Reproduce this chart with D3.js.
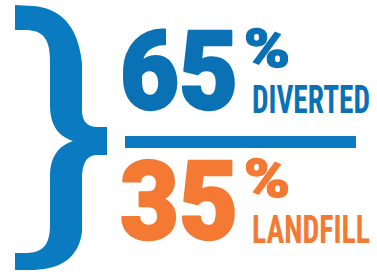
<!DOCTYPE html>
<html>
<head>
<meta charset="utf-8">
<script src="https://cdn.jsdelivr.net/npm/d3@7"></script>
<style>
  body { margin: 0; background: #fff; }
  svg { display: block; }
</style>
</head>
<body>
<div id="chart"></div>
<script>
// share of waste, by destination
var categories = ["DIVERTED", "LANDFILL"]
var values = [65, 35]
var colors = ["#0b71b5", "#f47933"]

var width = 377, height = 275
var svg = d3.select("#chart").append("svg")
  .attr("width", width)
  .attr("height", height)

var brace_color = "#0a7bc1"

// Curly brace on the left
svg.append("path")
  .attr("fill", brace_color)
  .attr("d", "M15,5 L33,6 C60,8 78,25 82,63 L82,110 C82,122 88,127 97,127 L107,127 L107,155 L97,155 " +
    "C88,155 83,161 82,175 L82,232 C78,262 55,270 30,270 L15,270 L15,253 L25,253 " +
    "C43,253 50,245 50,225 L50,177 C50,157 58,146 73,141 C58,136 50,125 50,105 " +
    "L50,60 C50,38 42,30 25,30 L15,30 Z")

// Row positions
var y = d3.scaleBand()
  .domain(categories)
  .range([5, 265])
  .paddingInner(0)

var rows = svg.selectAll("g.row")
  .data(categories)
  .enter().append("g")
    .attr("class", "row")
    .attr("transform", function (d) { return "translate(0," + y(d) + ")" })

// Big number
rows.append("text")
  .attr("x", 120)
  .attr("y", 104)
  .attr("font-family", "Roboto, 'Liberation Sans', sans-serif")
  .attr("font-weight", 900)
  .attr("font-size", 110)
  .attr("textLength", 118)
  .attr("lengthAdjust", "spacingAndGlyphs")
  .attr("fill", function (d, i) { return colors[i] })
  .attr("stroke", function (d, i) { return colors[i] })
  .attr("stroke-width", 2.5)
  .attr("stroke-linejoin", "round")
  .text(function (d, i) { return values[i] })

// Percent sign
rows.append("text")
  .attr("x", 244)
  .attr("y", 62)
  .attr("font-family", "Roboto, 'Liberation Sans', sans-serif")
  .attr("font-weight", 900)
  .attr("font-size", 53)
  .attr("textLength", 46)
  .attr("lengthAdjust", "spacingAndGlyphs")
  .attr("fill", function (d, i) { return colors[i] })
  .attr("stroke", function (d, i) { return colors[i] })
  .attr("stroke-width", 1.5)
  .text("%")

// Category label
rows.append("text")
  .attr("x", 252)
  .attr("y", 108)
  .attr("font-family", "'Liberation Sans Narrow', 'Roboto Condensed', Roboto, sans-serif")
  .attr("font-weight", 700)
  .attr("font-size", 38)
  .attr("textLength", 118)
  .attr("lengthAdjust", "spacingAndGlyphs")
  .attr("fill", function (d, i) { return colors[i] })
  .text(function (d) { return d })

// Divider
svg.append("rect")
  .attr("x", 125)
  .attr("y", 136)
  .attr("width", 231)
  .attr("height", 12)
  .attr("fill", brace_color)
</script>
</body>
</html>
